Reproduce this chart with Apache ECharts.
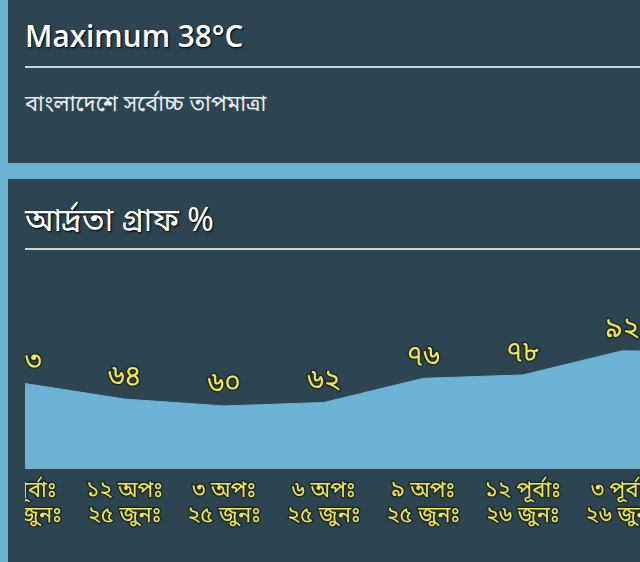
<!DOCTYPE html>
<html>
<head>
<meta charset="utf-8">
<script src="https://cdn.jsdelivr.net/npm/echarts@6/dist/echarts.min.js"></script>
<style>
    html, body { margin: 0; padding: 0; }
    body {
        width: 640px; height: 562px; overflow: hidden; position: relative;
        background: #6db3d4;
        font-family: "Noto Sans Bengali", "Lohit Bengali", "FreeSerif", "Open Sans", sans-serif;
    }
    .panel { position: absolute; left: 8px; width: 632px; background: #2d4451; }
    .title {
        position: absolute; left: 17px; color: #fff; white-space: nowrap;
        text-shadow: 1px 1px 2px #000; transform-origin: left top;
    }
    .rule { position: absolute; left: 17px; right: 0; height: 2px; background: #c8d6dc; }
    #wrap { position: absolute; left: 25px; top: 300px; width: 615px; height: 262px; overflow: hidden; }
    #chartRoot { position: absolute; left: -60px; top: 0; width: 817px; height: 262px; }
</style>
</head>
<body>
<div class="panel" style="top:0;height:163px">
    <div class="title" style="top:14px;font-size:31px;font-family:'Open Sans',sans-serif;font-weight:600;transform:scaleX(0.96)">Maximum 38°C</div>
    <div class="rule" style="top:66px"></div>
    <div class="title" style="top:91px;font-size:22px;text-shadow:none;color:#e6ecef">বাংলাদেশে সর্বোচ্চ তাপমাত্রা</div>
</div>
<div class="panel" style="top:179px;height:383px">
    <div class="title" style="top:23px;font-size:32px">আর্দ্রতা গ্রাফ %</div>
    <div class="rule" style="top:69px"></div>
</div>
<div id="wrap"><div id="chartRoot"></div></div>
<script>
    // সময় (x অক্ষ) ও আর্দ্রতা
    const timeLabels = ["৯ পূর্বাঃ", "১২ অপঃ", "৩ অপঃ", "৬ অপঃ", "৯ অপঃ", "১২ পূর্বাঃ", "৩ পূর্বাঃ", "৬ পূর্বাঃ"];
    const dateLabels = ["২৫ জুনঃ", "২৫ জুনঃ", "২৫ জুনঃ", "২৫ জুনঃ", "২৫ জুনঃ", "২৬ জুনঃ", "২৬ জুনঃ", "২৬ জুনঃ"];
    const humidity = [73, 64, 60, 62, 76, 78, 92, 91];
    const bnDigits = ["০", "১", "২", "৩", "৪", "৫", "৬", "৭", "৮", "৯"];

    let toBn = n => String(n).replace(/\d/g, d => bnDigits[d]);

    const yellow = "#f3e84a";
    const bnFont = "'Noto Sans Bengali', 'Lohit Bengali', 'FreeSerif', sans-serif";

    let categories = timeLabels.map((t, i) => t + "\n" + dateLabels[i]);

    let myChart = echarts.init(document.querySelector("#chartRoot"));
    let option = {
        animation: false,
        grid: { left: 60, right: 60, top: 37, bottom: 94 },
        xAxis: {
            type: "category",
            boundaryGap: false,
            data: categories,
            axisLine: { lineStyle: { color: "#86a8b8", width: 2 } },
            axisTick: { show: false },
            axisLabel: {
                interval: 0,
                hideOverlap: false,
                color: yellow,
                fontSize: 22,
                lineHeight: 25,
                margin: 12,
                fontFamily: bnFont,
                textBorderColor: "#1c2a32",
                textBorderWidth: 3
            }
        },
        yAxis: {
            type: "value",
            min: 24,
            max: 100,
            show: false
        },
        series: [{
            type: "line",
            data: humidity,
            symbol: "circle",
            symbolSize: 2,
            showSymbol: true,
            itemStyle: { color: "rgba(0,0,0,0)", borderWidth: 0 },
            lineStyle: { color: "#6cb3d5", width: 1 },
            areaStyle: { color: "#6cb3d5", opacity: 1 },
            label: {
                show: true,
                position: "top",
                distance: 4,
                color: yellow,
                fontSize: 28,
                fontFamily: bnFont,
                textBorderColor: "#1c2a32",
                textBorderWidth: 3,
                formatter: params => toBn(params.value)
            }
        }]
    };
    myChart.setOption(option);
</script>
</body>
</html>
